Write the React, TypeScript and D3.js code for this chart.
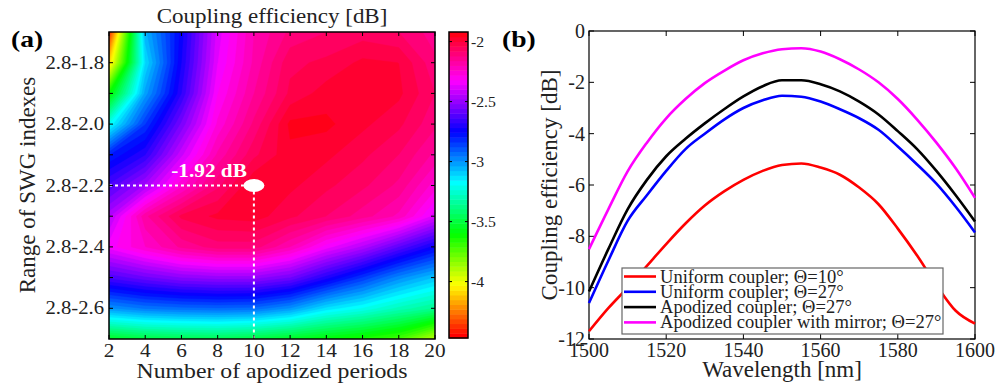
import React from 'react'
import * as d3 from 'd3'

// ---- panel (a): coupling efficiency map [dB] ----
const periods = [2, 4, 6, 8, 10, 12, 14, 16, 18, 20]
const lowIndex = [1.7, 1.8, 1.9, 2.0, 2.1, 2.2, 2.3, 2.4, 2.5, 2.6, 2.7]
// rows follow lowIndex, columns follow periods
const ceMap = [
  [-4.4, -3.05, -2.74, -2.38, -2.2, -2.11, -2.08, -2.06, -2.08, -2.14],
  [-4.1, -3.12, -2.72, -2.36, -2.19, -2.05, -2.03, -1.99, -2.0, -2.11],
  [-3.62, -3.02, -2.68, -2.32, -2.16, -2.03, -1.98, -1.99, -1.99, -2.08],
  [-3.2, -2.84, -2.55, -2.27, -2.11, -1.95, -1.95, -1.99, -2.03, -2.11],
  [-2.8, -2.68, -2.41, -2.19, -2.05, -1.97, -1.99, -2.03, -2.08, -2.17],
  [-2.63, -2.47, -2.25, -2.09, -1.96, -1.99, -2.03, -2.07, -2.13, -2.26],
  [-2.45, -2.17, -2.03, -1.99, -1.98, -2.03, -2.08, -2.14, -2.21, -2.38],
  [-2.34, -2.24, -2.15, -2.1, -2.1, -2.2, -2.34, -2.45, -2.6, -2.74],
  [-2.63, -2.57, -2.52, -2.5, -2.5, -2.56, -2.7, -2.84, -2.98, -3.08],
  [-3.0, -2.95, -2.93, -2.92, -2.93, -3.0, -3.13, -3.2, -3.29, -3.36],
  [-3.55, -3.5, -3.48, -3.47, -3.5, -3.55, -3.6, -3.65, -3.72, -3.92],
]
const xTicksA = [2, 4, 6, 8, 10, 12, 14, 16, 18, 20]
const yTicksA = [1.8, 1.9, 2.0, 2.1, 2.2, 2.3, 2.4, 2.5, 2.6]
const yLabelsA = ['2.8-1.8', '2.8-2.0', '2.8-2.2', '2.8-2.4', '2.8-2.6']
const cbTicks = [-2, -2.5, -3, -3.5, -4]
const cbRange = [-4.47, -1.92]
const best = { periods: 10, low: 2.2, label: '-1.92 dB' }

// ---- panel (b): spectra ----
const wavelength = [1500, 1505, 1510, 1515, 1520, 1525, 1530, 1535, 1540, 1545, 1550, 1555, 1560, 1565, 1570, 1575, 1580, 1585, 1590, 1595, 1600]
const uniform10 = [-11.7, -10.8, -10.0, -9.15, -8.3, -7.5, -6.8, -6.25, -5.8, -5.45, -5.22, -5.16, -5.32, -5.6, -6.1, -6.75, -7.7, -8.75, -9.9, -10.9, -11.4]
const uniform27 = [-10.6, -8.95, -7.4, -6.4, -5.45, -4.6, -4.0, -3.45, -3.0, -2.7, -2.52, -2.56, -2.75, -3.05, -3.4, -3.85, -4.5, -5.2, -5.95, -6.85, -7.85]
const apodized27 = [-10.15, -8.5, -6.95, -5.8, -4.88, -4.2, -3.6, -3.05, -2.55, -2.15, -1.92, -1.92, -2.07, -2.35, -2.75, -3.25, -3.9, -4.6, -5.45, -6.4, -7.42]
const mirror27 = [-8.5, -6.95, -5.47, -4.35, -3.4, -2.65, -2.03, -1.55, -1.14, -0.87, -0.71, -0.67, -0.8, -1.1, -1.5, -2.0, -2.65, -3.45, -4.35, -5.35, -6.5]
const seriesNames = ['Uniform coupler; Θ=10°', 'Uniform coupler; Θ=27°', 'Apodized coupler; Θ=27°', 'Apodized coupler with mirror; Θ=27°']
const seriesColors = ['#ff0000', '#0000ff', '#000000', '#ff00ff']
const xTicksB = [1500, 1520, 1540, 1560, 1580, 1600]
const yTicksB = [0, -2, -4, -6, -8, -10, -12]

const FONT = '"Liberation Serif", "Times New Roman", serif'

function T({ x, y, sx = 1, size = 18, anchor = 'start', weight = 'normal', fill = '#222', rot = 0, children }: any) {
  return (
    <text transform={`translate(${x},${y}) rotate(${rot}) scale(${sx},1)`} fontFamily={FONT} fontSize={size}
      fontWeight={weight} fill={fill} textAnchor={anchor}>{children}</text>
  )
}

export default function App() {
  const W = 997, H = 383
  // panel a
  const ax = { l: 109, r: 435, t: 32, b: 339 }
  const hx = d3.scaleLinear().domain([2, 20]).range([ax.l, ax.r])
  const hy = d3.scaleLinear().domain([1.7, 2.7]).range([ax.t, ax.b])
  const nLev = 64
  const step = (cbRange[1] - cbRange[0]) / nLev
  const thresholds = d3.range(nLev).map(i => cbRange[0] + i * step)
  const levelColor = (i: number) => d3.hsl((360 * i) / nLev, 1, 0.5).formatHex()
  const flat = ceMap.flat()
  const contours = d3.contours().size([periods.length, lowIndex.length]).thresholds(thresholds)(flat)
  const dx = periods[1] - periods[0], dy = lowIndex[1] - lowIndex[0]
  const proj = d3.geoTransform({
    point(this: any, x: number, y: number) {
      this.stream.point(hx(periods[0] + dx * (x - 0.5)), hy(lowIndex[0] + dy * (y - 0.5)))
    },
  })
  const geo = d3.geoPath(proj)

  const cb = { l: 449, r: 468, t: 32, b: 338 }
  const cy = d3.scaleLinear().domain(cbRange).range([cb.b, cb.t])

  // panel b
  const bx = { l: 589, r: 975, t: 31, b: 339 }
  const wx = d3.scaleLinear().domain([1500, 1600]).range([bx.l, bx.r])
  const wy = d3.scaleLinear().domain([-12, 0]).range([bx.b, bx.t])
  const line = d3.line<number>().x((_, i) => wx(wavelength[i])).y(d => wy(d)).curve(d3.curveMonotoneX)
  const series = [uniform10, uniform27, apodized27, mirror27]

  const mx = hx(best.periods), my = hy(best.low)
  const tk = 4

  return (
    <div style={{ position: 'absolute', left: 0, top: 0 }}>
      <svg width={W} height={H} style={{ display: 'block', background: '#fff' }}>
        <defs>
          <clipPath id="heat"><rect x={ax.l} y={ax.t} width={ax.r - ax.l} height={ax.b - ax.t} /></clipPath>
        </defs>
        {/* heat map */}
        <g clipPath="url(#heat)">
          {contours.map((c, i) => (
            <path key={i} d={geo(c as any) || ''} fill={levelColor(i)} stroke={levelColor(i)} strokeWidth={0.4} />
          ))}
        </g>
        {/* optimum marker */}
        <line x1={ax.l} x2={mx - 10} y1={my} y2={my} stroke="#fff" strokeWidth={2} strokeDasharray="3,3" />
        <line x1={mx} x2={mx} y1={my + 6} y2={ax.b} stroke="#fff" strokeWidth={2} strokeDasharray="3,3" />
        <ellipse cx={mx} cy={my} rx={10.5} ry={6.5} fill="#fff" />
        <T x={mx - 7} y={my - 9} size={19} sx={1.12} anchor="end" weight="bold" fill="#fff">{best.label}</T>
        <rect x={ax.l} y={ax.t} width={ax.r - ax.l} height={ax.b - ax.t} fill="none" stroke="#000" strokeWidth={1.5} />
        {xTicksA.map(v => (
          <g key={v}>
            <line x1={hx(v)} x2={hx(v)} y1={ax.b} y2={ax.b - tk} stroke="#000" />
            <line x1={hx(v)} x2={hx(v)} y1={ax.t} y2={ax.t + tk} stroke="#000" />
            <T x={hx(v)} y={357} size={19} sx={1.12} anchor="middle">{v}</T>
          </g>
        ))}
        {yTicksA.map(v => (
          <g key={v}>
            <line x1={ax.l} x2={ax.l + tk} y1={hy(v)} y2={hy(v)} stroke="#000" />
            <line x1={ax.r} x2={ax.r - tk} y1={hy(v)} y2={hy(v)} stroke="#000" />
          </g>
        ))}
        {yLabelsA.map((s, i) => (
          <T key={s} x={104} y={hy(1.8 + 0.2 * i) + 6} size={18} sx={1.15} anchor="end">{s}</T>
        ))}
        <T x={272} y={23} size={20} sx={1.15} anchor="middle">Coupling efficiency [dB]</T>
        <T x={272} y={378} size={22} sx={1.08} anchor="middle">Number of apodized periods</T>
        <T x={35} y={185} size={23} rot={-90} anchor="middle">Range of SWG indexes</T>
        <T x={11} y={47} size={24} sx={1.15} weight="bold" fill="#000">(a)</T>

        {/* colour bar */}
        {d3.range(nLev).map(i => (
          <rect key={i} x={cb.l} width={cb.r - cb.l} y={cy(thresholds[i] + step)} height={cy(thresholds[i]) - cy(thresholds[i] + step) + 0.5}
            fill={levelColor(i)} />
        ))}
        <rect x={cb.l} y={cb.t} width={cb.r - cb.l} height={cb.b - cb.t} fill="none" stroke="#000" strokeWidth={1.5} />
        {cbTicks.map(v => (
          <g key={v}>
            <line x1={cb.r} x2={cb.r - 3} y1={cy(v)} y2={cy(v)} stroke="#000" />
            <line x1={cb.l} x2={cb.l + 3} y1={cy(v)} y2={cy(v)} stroke="#000" />
            <T x={471} y={cy(v) + 5} size={15} sx={1.05}>{v}</T>
          </g>
        ))}

        {/* panel b */}
        <rect x={bx.l} y={bx.t} width={bx.r - bx.l} height={bx.b - bx.t} fill="#fff" stroke="#000" strokeWidth={1.2} />
        {xTicksB.map(v => (
          <g key={v}>
            <line x1={wx(v)} x2={wx(v)} y1={bx.b} y2={bx.b - 5} stroke="#000" />
            <line x1={wx(v)} x2={wx(v)} y1={bx.t} y2={bx.t + 5} stroke="#000" />
            <T x={wx(v)} y={357} size={20} anchor="middle">{v}</T>
          </g>
        ))}
        {yTicksB.map(v => (
          <g key={v}>
            <line x1={bx.l} x2={bx.l + 5} y1={wy(v)} y2={wy(v)} stroke="#000" />
            <line x1={bx.r} x2={bx.r - 5} y1={wy(v)} y2={wy(v)} stroke="#000" />
            <T x={585} y={wy(v) + 7} size={20} anchor="end">{v}</T>
          </g>
        ))}
        {series.map((s, i) => (
          <path key={i} d={line(s) || ''} fill="none" stroke={seriesColors[i]} strokeWidth={2.6} />
        ))}
        <rect x={622} y={268} width={321} height={66} fill="#fff" stroke="#666" strokeWidth={1.2} />
        {seriesNames.map((s, i) => (
          <g key={s}>
            <line x1={624} x2={656} y1={276.5 + i * 15.3} y2={276.5 + i * 15.3} stroke={seriesColors[i]} strokeWidth={2.6} />
            <T x={660} y={282.5 + i * 15.3} size={18} sx={1.03}>{s}</T>
          </g>
        ))}
        <T x={782} y={377} size={23} anchor="middle">Wavelength [nm]</T>
        <T x={557} y={185} size={23} rot={-90} anchor="middle">Coupling efficiency [dB]</T>
        <T x={502} y={47} size={24} sx={1.15} weight="bold" fill="#000">(b)</T>
      </svg>
    </div>
  )
}
